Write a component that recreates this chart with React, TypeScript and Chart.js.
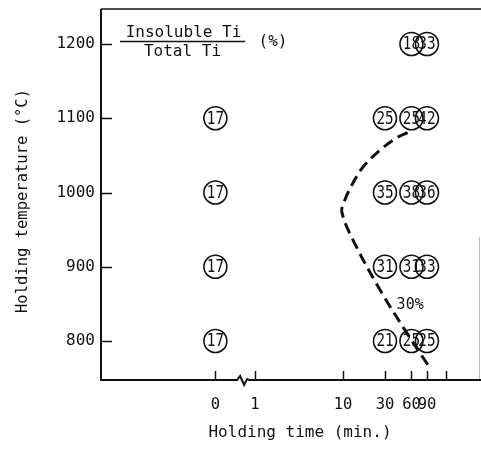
import React, { useEffect, useRef } from "react";
import { Chart, registerables } from "chart.js";

Chart.register(...registerables);

const FONT_FAMILY = '"DejaVu Sans Mono", "Liberation Mono", monospace';
const INK = "#111";

// Holding temperatures (°C) of the test rows
const TEMPERATURES = [800, 900, 1000, 1100, 1200];
// Holding times (min) of the test columns
const HOLD_TIMES = [0, 30, 60, 90];
// Insoluble Ti / Total Ti (%) for each holding time, listed by temperature; null = not tested
const RATIO_AT_0_MIN = [17, 17, 17, 17, null];
const RATIO_AT_30_MIN = [21, 31, 35, 25, null];
const RATIO_AT_60_MIN = [25, 31, 38, 25, 18];
const RATIO_AT_90_MIN = [25, 33, 36, 42, 33];

// 30 % iso-ratio boundary: holding time (min) and temperature (°C) along the curve
const BOUNDARY_TIMES = [92, 53, 26.3, 13, 9.7, 10.5, 13, 16.8, 26.3, 41, 55];
const BOUNDARY_TEMPS = [768, 811, 869, 936, 974, 990, 1013, 1034, 1057, 1074, 1081];
const BOUNDARY_LABEL = "30%";
const BOUNDARY_LABEL_TIME = 58;
const BOUNDARY_LABEL_TEMP = 848;

// Axis ticks
const X_TICK_TIMES = [0, 1, 10, 30, 60, 90, 150];
const X_TICK_LABELS = ["0", "1", "10", "30", "60", "90", ""];
const Y_TICKS = [800, 900, 1000, 1100, 1200];

const X_TITLE = "Holding time (min.)";
const Y_TITLE = "Holding temperature (°C)";
const KEY_NUMERATOR = "Insoluble Ti";
const KEY_DENOMINATOR = "Total Ti";
const KEY_UNIT = "(%)";

// The time axis is logarithmic; t = 0 sits to the left of an axis break.
const ZERO_POSITION = -0.45;
const toAxis = (t: number) => (t === 0 ? ZERO_POSITION : Math.log10(t));

const X_MIN = -1.75;
const X_MAX = 2.557;
const Y_MIN = 747.5;
const Y_MAX = 1247.2;

const RATIO_SERIES = [RATIO_AT_0_MIN, RATIO_AT_30_MIN, RATIO_AT_60_MIN, RATIO_AT_90_MIN];

function font(size: number) {
  return `${size}px ${FONT_FAMILY}`;
}

const framePlugin = {
  id: "frame",
  afterDatasetsDraw(chart: any) {
    const { ctx, chartArea: a, scales } = chart;
    const x = scales.x;
    const y = scales.y;
    const seg = (x1: number, y1: number, x2: number, y2: number) => {
      ctx.beginPath();
      ctx.moveTo(x1, y1);
      ctx.lineTo(x2, y2);
      ctx.stroke();
    };
    ctx.save();
    ctx.strokeStyle = INK;
    ctx.fillStyle = INK;
    ctx.lineCap = "butt";

    // frame: left axis and top edge
    ctx.lineWidth = 2;
    seg(a.left, a.top, a.left, a.bottom + 1);
    ctx.lineWidth = 1.5;
    seg(a.left, a.top, a.right + 1, a.top);
    ctx.strokeStyle = "#b8b8b8";
    ctx.lineWidth = 1;
    seg(a.right - 0.5, a.top + 228, a.right - 0.5, a.bottom);
    ctx.strokeStyle = INK;

    // bottom axis with a break between 0 and 1
    const p0 = x.getPixelForValue(toAxis(0));
    const p1 = x.getPixelForValue(toAxis(1));
    const mid = p0 + (p1 - p0) * 0.7;
    const b = a.bottom;
    ctx.lineWidth = 2;
    ctx.beginPath();
    ctx.moveTo(a.left - 1, b);
    ctx.lineTo(mid - 6, b);
    ctx.lineTo(mid - 3, b - 4);
    ctx.lineTo(mid + 1, b + 5);
    ctx.lineTo(mid + 4, b - 1);
    ctx.lineTo(mid + 6, b);
    ctx.lineTo(a.right + 1, b);
    ctx.stroke();

    // inward tick marks
    ctx.lineWidth = 1.5;
    Y_TICKS.forEach((v) => {
      const py = Math.round(y.getPixelForValue(v)) + 0.5;
      seg(a.left, py, a.left + 11, py);
    });
    X_TICK_TIMES.forEach((t) => {
      const px = Math.round(x.getPixelForValue(toAxis(t))) + 0.5;
      seg(px, b, px, b - 9);
    });

    // ratio values inside the circles (narrow, tall digits)
    ctx.font = font(17);
    ctx.textAlign = "center";
    ctx.textBaseline = "middle";
    chart.data.datasets.forEach((ds: any, i: number) => {
      if (!ds.ratioMarks) return;
      const meta = chart.getDatasetMeta(i);
      meta.data.forEach((el: any, j: number) => {
        ctx.save();
        ctx.translate(el.x, el.y + 1);
        ctx.scale(0.84, 1);
        ctx.fillText(String(ds.data[j].ratio), 0, 0);
        ctx.restore();
      });
    });

    // boundary label
    ctx.font = font(15);
    ctx.fillText(
      BOUNDARY_LABEL,
      x.getPixelForValue(toAxis(BOUNDARY_LABEL_TIME)),
      y.getPixelForValue(BOUNDARY_LABEL_TEMP)
    );

    // key: Insoluble Ti / Total Ti (%)
    const kx = a.left + 19;
    const kw = 125;
    ctx.lineWidth = 1.5;
    seg(kx, a.top + 32.5, kx + kw, a.top + 32.5);
    ctx.font = font(16);
    ctx.textBaseline = "alphabetic";
    ctx.fillText(KEY_NUMERATOR, kx + kw / 2 + 1, a.top + 28);
    ctx.fillText(KEY_DENOMINATOR, kx + kw / 2, a.top + 47);
    ctx.textBaseline = "middle";
    ctx.fillText(KEY_UNIT, kx + kw + 28, a.top + 33);

    // axis titles
    ctx.font = font(16);
    ctx.fillText(X_TITLE, 300, 433);
    ctx.save();
    ctx.translate(23, 201);
    ctx.rotate(-Math.PI / 2);
    ctx.font = font(15.5);
    ctx.fillText(Y_TITLE, 0, 0);
    ctx.restore();

    ctx.restore();
  },
};

export default function App() {
  const canvasRef = useRef<HTMLCanvasElement | null>(null);

  useEffect(() => {
    const canvas = canvasRef.current;
    if (!canvas) return;

    const pointSets = HOLD_TIMES.map((t, i) => ({
      type: "scatter",
      label: `${t} min`,
      ratioMarks: true,
      data: TEMPERATURES.map((temp, j) => ({ x: toAxis(t), y: temp, ratio: RATIO_SERIES[i][j] })).filter(
        (p) => p.ratio !== null
      ),
      pointRadius: 11.5,
      pointHoverRadius: 11.5,
      pointBorderWidth: 1.6,
      pointBorderColor: INK,
      pointBackgroundColor: "rgba(0,0,0,0)",
      showLine: false,
      clip: false,
    }));

    const boundary = {
      type: "line",
      label: "30% boundary",
      data: BOUNDARY_TIMES.map((t, i) => ({ x: toAxis(t), y: BOUNDARY_TEMPS[i] })),
      borderColor: INK,
      borderWidth: 3,
      borderDash: [11, 6],
      borderCapStyle: "butt",
      tension: 0.35,
      pointRadius: 0,
      showLine: true,
      fill: false,
    };

    const chart = new Chart(canvas, {
      type: "scatter",
      data: { datasets: [boundary, ...pointSets] as any },
      options: {
        responsive: false,
        animation: false,
        events: [],
        layout: { autoPadding: false, padding: { left: 0, top: 9, right: 1, bottom: 0 } },
        plugins: { legend: { display: false }, tooltip: { enabled: false } },
        scales: {
          x: {
            type: "linear",
            position: "bottom",
            min: X_MIN,
            max: X_MAX,
            grid: { display: false, drawTicks: false },
            border: { display: false },
            afterBuildTicks: (scale: any) => {
              scale.ticks = X_TICK_TIMES.map((t) => ({ value: toAxis(t) }));
            },
            afterFit: (scale: any) => {
              scale.height = 72;
              scale.paddingLeft = 0;
              scale.paddingRight = 0;
            },
            ticks: {
              autoSkip: false,
              maxRotation: 0,
              padding: 16,
              color: INK,
              font: { family: FONT_FAMILY, size: 15.5 },
              callback: (_v: any, i: number) => X_TICK_LABELS[i],
            },
          },
          y: {
            type: "linear",
            position: "left",
            min: Y_MIN,
            max: Y_MAX,
            grid: { display: false, drawTicks: false },
            border: { display: false },
            afterBuildTicks: (scale: any) => {
              scale.ticks = Y_TICKS.map((v) => ({ value: v }));
            },
            afterFit: (scale: any) => {
              scale.width = 101;
              scale.paddingTop = 0;
              scale.paddingBottom = 0;
            },
            ticks: {
              padding: 6,
              color: INK,
              font: { family: FONT_FAMILY, size: 16 },
              callback: (v: any) => String(v),
            },
          },
        },
      } as any,
      plugins: [framePlugin],
    });

    return () => chart.destroy();
  }, []);

  return (
    <div style={{ position: "absolute", left: 0, top: 0, width: 481, height: 452, background: "#fff" }}>
      <canvas ref={canvasRef} width={481} height={452} style={{ display: "block" }} />
    </div>
  );
}
